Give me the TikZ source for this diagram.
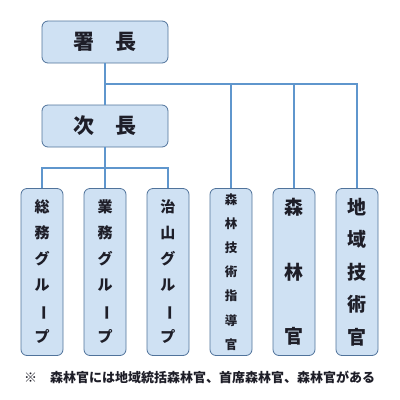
\documentclass[tikz,border=0pt]{standalone}
\usepackage{fontspec}
\newfontfamily\jp{Noto Sans CJK JP}
\usetikzlibrary{positioning}
\definecolor{boxfill}{RGB}{207,225,243}
\definecolor{boxline}{RGB}{80,115,155}
\definecolor{linkline}{RGB}{95,150,205}
\definecolor{ink}{RGB}{30,30,40}
\newcommand{\tate}{\rotatebox[origin=c]{-90}{ー}}

\begin{document}
\begin{tikzpicture}[x=1pt, y=-1pt,
    orgbox/.style={draw=boxline, fill=boxfill, rounded corners=6pt, line width=0.8pt,
        text=ink, inner sep=0pt, align=center},
    headbox/.style={orgbox, minimum width=126pt, minimum height=42pt,
        font=\jp\bfseries\fontsize{21}{24}\selectfont},
    groupbox/.style={orgbox, minimum width=42pt, minimum height=167pt},
    link/.style={draw=linkline, line width=1.6pt}]
    \useasboundingbox (0,0) rectangle (400,400);
    % heads
    \node[headbox] (shocho) at (105,42) {署　長};
    \node[headbox] (jicho) at (105,126) {次　長};
    % groups and staff
    \node[groupbox, font=\jp\bfseries\fontsize{15}{26}\selectfont] (somu) at (42,272)
        {総\\務\\グ\\ル\\\tate\\プ};
    \node[groupbox, font=\jp\bfseries\fontsize{15}{26}\selectfont] (gyomu) at (105,272)
        {業\\務\\グ\\ル\\\tate\\プ};
    \node[groupbox, font=\jp\bfseries\fontsize{15}{26}\selectfont] (chisan) at (168,272)
        {治\\山\\グ\\ル\\\tate\\プ};
    \node[groupbox, font=\jp\bfseries\fontsize{12.5}{24.2}\selectfont] (shidokan) at (231,272)
        {森\\林\\技\\術\\指\\導\\官};
    \node[groupbox, font=\jp\bfseries\fontsize{19}{64.5}\selectfont] (shinrinkan) at (294,272)
        {森\\林\\官};
    \node[groupbox, font=\jp\bfseries\fontsize{19}{32.5}\selectfont] (chiikikan) at (357,272)
        {地\\域\\技\\術\\官};
    % connectors
    \coordinate (bus1) at (105,84);
    \coordinate (bus2) at (105,168);
    \draw[link] (shocho) -- (jicho);
    \draw[link] (bus1) -| (shidokan.north);
    \draw[link] (bus1) -| (shinrinkan.north);
    \draw[link] (bus1) -| (chiikikan.north);
    \draw[link] (jicho) -- (gyomu);
    \draw[link] (bus2) -| (somu.north);
    \draw[link] (bus2) -| (chisan.north);
    % note
    \node[anchor=west, inner sep=0pt, text=ink, font=\jp\bfseries\fontsize{13}{16}\selectfont]
        (note) at (24,377) {※　森林官には地域統括森林官、首席森林官、森林官がある};
\end{tikzpicture}
\end{document}
